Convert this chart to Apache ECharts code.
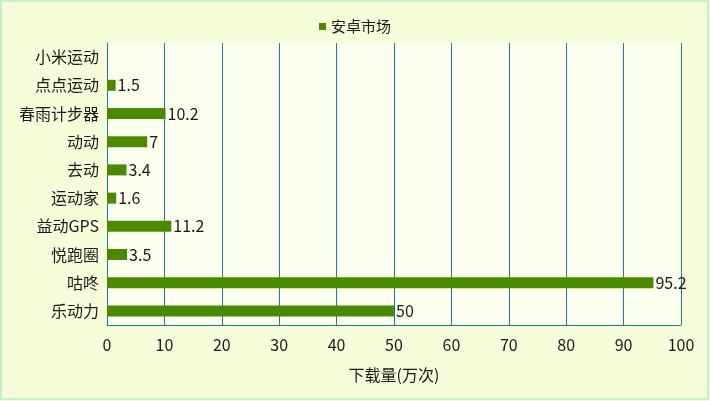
<!DOCTYPE html><html><head><meta charset="utf-8"><script src="https://cdn.jsdelivr.net/npm/echarts@6/dist/echarts.min.js"></script></head><body style="margin:0"><div id="c" style="width:710px;height:401px"></div><script>
const categories=['乐动力','咕咚','悦跑圈','益动GPS','运动家','去动','动动','春雨计步器','点点运动','小米运动'];
const values=[50,95.2,3.5,11.2,1.6,3.4,7,10.2,1.5,null];
const seriesName='安卓市场';
const ch=echarts.init(document.getElementById('c'));
const f='"Microsoft YaHei","Noto Sans CJK SC",sans-serif';
ch.setOption({backgroundColor:'#f5fdd9',animation:false,
graphic:[{type:'rect',shape:{x:1,y:1,width:707,height:398},style:{fill:'none',stroke:'#c8f0c8',lineWidth:2}}],
legend:{top:14,left:'center',itemWidth:7,itemHeight:7,itemGap:4,textStyle:{fontFamily:f,fontSize:15,color:'#1a1a1a'},data:[{name:seriesName,icon:'rect'}]},
grid:{left:107,right:29,top:43,bottom:76,backgroundColor:'#fbffee',show:true,borderWidth:0},
xAxis:{type:'value',min:0,max:100,interval:10,name:'下载量(万次)',nameLocation:'middle',nameGap:42,nameTextStyle:{fontFamily:f,fontSize:16,color:'#1a1a1a'},
axisLabel:{fontFamily:f,fontSize:16,color:'#1a1a1a',margin:12},axisLine:{show:true,lineStyle:{color:'#1a7f8a'}},axisTick:{show:false},splitLine:{lineStyle:{color:'#1a7f8a'}}},
yAxis:{type:'category',data:categories,axisLine:{lineStyle:{color:'#1a7f8a'}},axisTick:{inside:true,length:7,lineStyle:{color:'#1a7f8a'}},axisLabel:{fontFamily:f,fontSize:16,color:'#1a1a1a',margin:8}},
series:[{name:seriesName,type:'bar',data:values,barWidth:11,itemStyle:{color:'#4a8a00'},label:{show:true,position:'right',distance:2,fontFamily:f,fontSize:16,color:'#1a1a1a'}}]});
</script></body></html>
